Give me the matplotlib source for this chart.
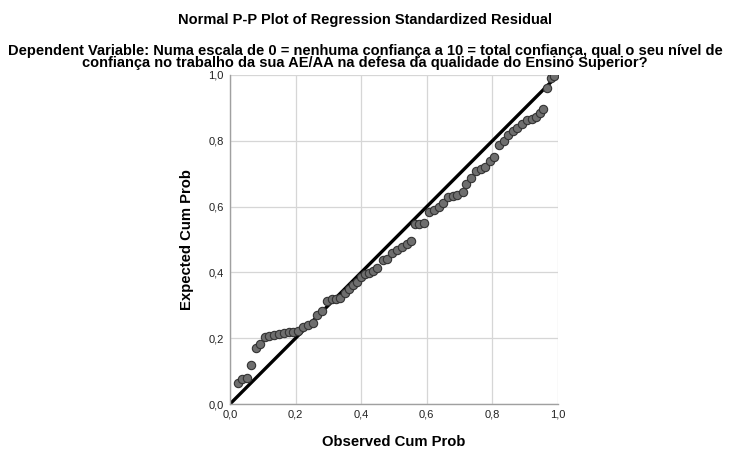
import matplotlib
matplotlib.use("Agg")
import matplotlib.pyplot as plt
from matplotlib.ticker import FuncFormatter

plt.rcParams['font.family'] = ['Liberation Sans', 'DejaVu Sans']

observed = [0.023, 0.036, 0.051, 0.064, 0.080, 0.092, 0.108, 0.120, 0.135, 0.150,
            0.166, 0.179, 0.191, 0.206, 0.222, 0.237, 0.252, 0.266, 0.280, 0.297,
            0.312, 0.323, 0.335, 0.351, 0.364, 0.376, 0.386, 0.398, 0.412, 0.424,
            0.437, 0.449, 0.466, 0.478, 0.494, 0.508, 0.523, 0.539, 0.552, 0.564,
            0.577, 0.592, 0.608, 0.622, 0.636, 0.650, 0.665, 0.679, 0.693, 0.709,
            0.720, 0.735, 0.750, 0.764, 0.778, 0.793, 0.806, 0.821, 0.835, 0.849,
            0.862, 0.876, 0.890, 0.904, 0.920, 0.932, 0.945, 0.953, 0.966, 0.978,
            0.988]
expected = [0.063, 0.075, 0.078, 0.118, 0.169, 0.182, 0.205, 0.208, 0.210, 0.213,
            0.217, 0.219, 0.220, 0.222, 0.233, 0.240, 0.245, 0.270, 0.283, 0.314,
            0.318, 0.319, 0.323, 0.336, 0.350, 0.362, 0.372, 0.387, 0.395, 0.399,
            0.405, 0.412, 0.438, 0.440, 0.459, 0.467, 0.478, 0.485, 0.495, 0.546,
            0.546, 0.551, 0.584, 0.590, 0.598, 0.612, 0.628, 0.632, 0.635, 0.645,
            0.669, 0.688, 0.709, 0.714, 0.719, 0.740, 0.752, 0.787, 0.800, 0.818,
            0.830, 0.840, 0.851, 0.862, 0.866, 0.872, 0.884, 0.898, 0.962, 0.992,
            0.998]
ref_line = [0.0, 1.0]
ticks = [0.0, 0.2, 0.4, 0.6, 0.8, 1.0]

title = "Normal P-P Plot of Regression Standardized Residual"
subtitle = ("Dependent Variable: Numa escala de 0 = nenhuma confiança a 10 = total confiança, qual o seu nível de\n"
            "confiança no trabalho da sua AE/AA na defesa da qualidade do Ensino Superior?")

fig = plt.figure(figsize=(7.29, 4.49), dpi=100)
ax = fig.add_axes([230/729, 45/449, 328/729, 329/449])

ax.plot(ref_line, ref_line, color='black', lw=2.4, zorder=2, solid_capstyle='butt')
ax.scatter(observed, expected, s=36, facecolor='#6e6e6e', edgecolor='#333333',
           linewidths=0.8, zorder=3)

ax.set_xlim(0, 1)
ax.set_ylim(0, 1)
ax.set_xticks(ticks)
ax.set_yticks(ticks)
fmt = FuncFormatter(lambda v, p: f"{v:.1f}".replace('.', ','))
ax.xaxis.set_major_formatter(fmt)
ax.yaxis.set_major_formatter(fmt)
ax.tick_params(length=0, labelsize=8, colors='#222222')
ax.tick_params(axis='x', pad=4)
ax.tick_params(axis='y', pad=4.5)
ax.grid(True, color='#d6d6d6', lw=0.9)
ax.set_axisbelow(True)
for s in ['top', 'right']:
    ax.spines[s].set_visible(False)
for s in ['left', 'bottom']:
    ax.spines[s].set_color('#a0a0a0')
    ax.spines[s].set_linewidth(1.0)

ax.set_xlabel("Observed Cum Prob", fontsize=10.7, fontweight='bold', labelpad=11)
ax.set_ylabel("Expected Cum Prob", fontsize=10.7, fontweight='bold', labelpad=10)

fig.text(365/729, 1 - 20/449, title, ha='center', va='center', fontsize=10.5, fontweight='bold')
fig.text(365/729, 1 - 57/449, subtitle, ha='center', va='center', fontsize=10.5,
         fontweight='bold', linespacing=0.9)

fig.savefig("out.png", dpi=100)
